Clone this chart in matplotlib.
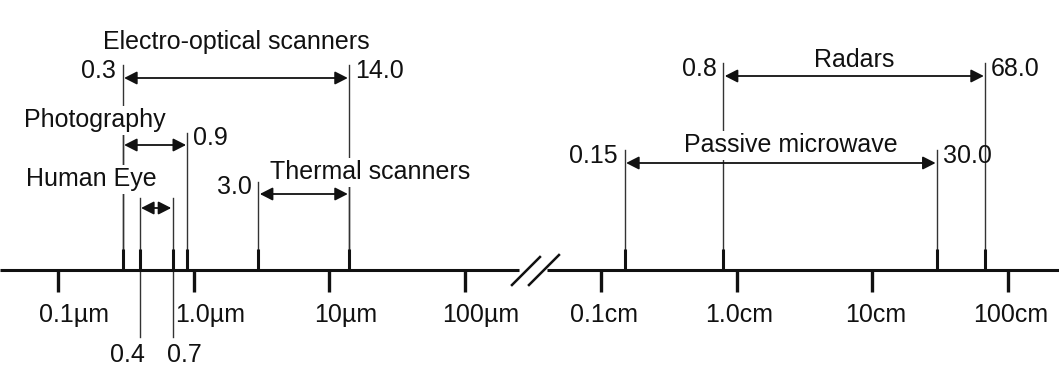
import numpy as np
import matplotlib.pyplot as plt

plt.rcParams['font.family'] = ['Liberation Sans', 'DejaVu Sans']

# Wavelength ranges of sensors
bands = ['Electro-optical scanners', 'Photography', 'Human Eye',
         'Thermal scanners', 'Radars', 'Passive microwave']
lo_vals = [0.3, 0.3, 0.4, 3.0, 0.8, 0.15]
hi_vals = [14.0, 0.9, 0.7, 14.0, 68.0, 30.0]
units = ['µm', 'µm', 'µm', 'µm', 'cm', 'cm']

# axis ticks
tick_vals = [0.1, 1, 10, 100, 0.1, 1, 10, 100]
tick_units = ['µm'] * 4 + ['cm'] * 4
tick_labels = ['0.1µm', '1.0µm', '10µm', '100µm', '0.1cm', '1.0cm', '10cm', '100cm']

to_um = {'µm': 1.0, 'cm': 1e4}

# layout per band: arrow y, line top y, label dx, label y, where lo/hi values go
layout = [
    dict(ay=78, top=65, ldx=0, ly=42, lo='left', hi='right'),
    dict(ay=145, top=133, ldx=-60, ly=120, lo=None, hi='right'),
    dict(ay=208, top=198, ldx=-65, ly=179, lo='below', hi='below'),
    dict(ay=194, top=182, ldx=66, ly=172, lo='left', hi=None),
    dict(ay=76, top=63, ldx=0, ly=60, lo='left', hi='right'),
    dict(ay=163, top=150, ldx=10, ly=145, lo='left', hi='right'),
]

W, H = 1059, 368
fig = plt.figure(figsize=(W / 100, H / 100), dpi=100)
ax = fig.add_axes([0, 0, 1, 1])
ax.set_xscale('log')
lgmin, lgmax = -1.427, 6.376
ax.set_xlim(10 ** lgmin, 10 ** lgmax)
ax.set_ylim(H, 0)
ax.axis('off')

px_dec = W / (lgmax - lgmin)


def xshift(x, dpx):
    return x * 10 ** (dpx / px_dec)


axis_y = 270
fs = 18
ink = '#111111'

# main axis with break between 100µm and 0.1cm
xb = np.sqrt(100 * 1000)
ax.plot([10 ** lgmin, xshift(xb, -14)], [axis_y, axis_y], color=ink, lw=2.2, solid_capstyle='butt')
ax.plot([xshift(xb, 14), 10 ** lgmax], [axis_y, axis_y], color=ink, lw=2.2, solid_capstyle='butt')
ax.plot([xshift(xb, -21), xshift(xb, 7)], [285, 257], color=ink, lw=1.8)
ax.plot([xshift(xb, -4), xshift(xb, 26)], [285, 255], color=ink, lw=1.8)

# major ticks and labels
for v, u, lab in zip(tick_vals, tick_units, tick_labels):
    x = v * to_um[u]
    ax.plot([x, x], [axis_y, 292], color=ink, lw=2.4, solid_capstyle='butt')
    dx = 16 if u == 'µm' else 3
    ax.annotate(lab, (x, 315), xytext=(dx, 0), textcoords='offset pixels',
                ha='center', va='center', fontsize=fs, color=ink)

# marks on the axis
marks = sorted(set([l * to_um[u] for l, u in zip(lo_vals, units)] +
                   [h * to_um[u] for h, u in zip(hi_vals, units)]))
for x in marks:
    ax.plot([x, x], [249, axis_y], color=ink, lw=2.2, solid_capstyle='butt', zorder=2)

white = dict(boxstyle='square,pad=0.1', fc='white', ec='none')

for name, lo, hi, u, lay in zip(bands, lo_vals, hi_vals, units, layout):
    x0, x1 = lo * to_um[u], hi * to_um[u]
    bottom = 337 if lay['lo'] == 'below' else axis_y
    for x in (x0, x1):
        ax.plot([x, x], [lay['top'], bottom], color='#333333', lw=1.0, zorder=1)
    ax.annotate('', xy=(x1, lay['ay']), xytext=(x0, lay['ay']),
                arrowprops=dict(arrowstyle='<|-|>,head_length=0.55,head_width=0.28',
                                color=ink, lw=1.3, shrinkA=1, shrinkB=1,
                                mutation_scale=14), zorder=2)
    xm = np.sqrt(x0 * x1)
    ax.annotate(name, (xm, lay['ly']), xytext=(lay['ldx'], 0), textcoords='offset pixels',
                ha='center', va='center', fontsize=fs, color=ink, bbox=white, zorder=3)
    for x, v, side, bdx in ((x0, lo, lay['lo'], -12), (x1, hi, lay['hi'], 12)):
        if side == 'left':
            ax.annotate(str(v), (x, lay['ay'] - 7), xytext=(-7, 0), textcoords='offset pixels',
                        ha='right', va='center', fontsize=fs, color=ink)
        elif side == 'right':
            ax.annotate(str(v), (x, lay['ay'] - 7), xytext=(6, 0), textcoords='offset pixels',
                        ha='left', va='center', fontsize=fs, color=ink)
        elif side == 'below':
            ax.annotate(str(v), (x, 355), xytext=(bdx, 0), textcoords='offset pixels',
                        ha='center', va='center', fontsize=fs, color=ink)

fig.savefig('out.png', dpi=100, facecolor='white')
